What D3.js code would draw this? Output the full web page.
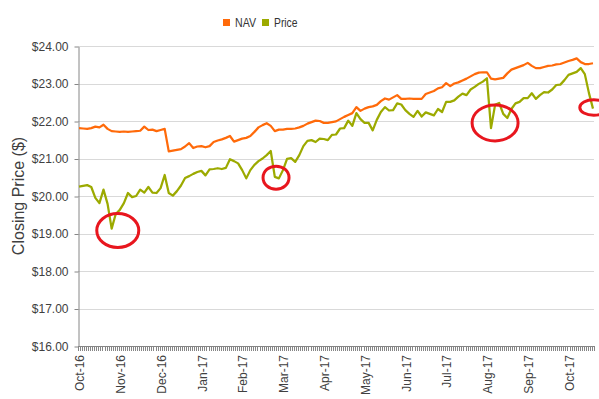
<!DOCTYPE html>
<html>
<head>
<meta charset="utf-8">
<script src="https://cdn.jsdelivr.net/npm/d3@7"></script>
<style>
  body { margin: 0; background: #fff; }
  svg { display: block; font-family: "Liberation Sans", Arial, sans-serif; }
</style>
</head>
<body>
<svg id="chart" width="599" height="399"></svg>
<script>
// trading-day category axis, labelled every 20 days
const tickLabels = ["Oct-16", "Nov-16", "Dec-16", "Jan-17", "Feb-17", "Mar-17", "Apr-17",
  "May-17", "Jun-17", "Jul-17", "Aug-17", "Sep-17", "Oct-17"];
const labelEvery = 20;
const dayCount = 253;
const sampleStep = 2; // one value every 2 trading days

const navValues = [
  21.81, 21.80, 21.79, 21.81, 21.85, 21.83, 21.90, 21.79, 21.73, 21.72,
  21.71, 21.72, 21.71, 21.72, 21.73, 21.74, 21.85, 21.76, 21.77, 21.73,
  21.76, 21.79, 21.19, 21.21, 21.23, 21.25, 21.32, 21.41, 21.28, 21.32,
  21.33, 21.30, 21.33, 21.44, 21.48, 21.51, 21.55, 21.60, 21.45, 21.49,
  21.53, 21.55, 21.60, 21.71, 21.83, 21.89, 21.94, 21.87, 21.73, 21.77,
  21.77, 21.79, 21.79, 21.80, 21.83, 21.87, 21.93, 21.97, 22.01, 22.00,
  21.95, 21.95, 21.97, 21.99, 22.05, 22.11, 22.16, 22.21, 22.37, 22.27,
  22.33, 22.37, 22.39, 22.43, 22.53, 22.60, 22.57, 22.63, 22.69, 22.59,
  22.59, 22.60, 22.59, 22.59, 22.59, 22.72, 22.76, 22.80, 22.87, 22.90,
  23.01, 22.93, 23.00, 23.03, 23.08, 23.13, 23.19, 23.25, 23.29, 23.30,
  23.30, 23.13, 23.11, 23.13, 23.15, 23.27, 23.37, 23.41, 23.45, 23.49,
  23.55, 23.47, 23.41, 23.41, 23.44, 23.47, 23.48, 23.51, 23.52, 23.56,
  23.60, 23.63, 23.67, 23.57, 23.52, 23.52, 23.54
];

const priceValues = [
  20.25, 20.27, 20.29, 20.24, 19.95, 19.81, 20.17, 19.79, 19.13, 19.52,
  19.63, 19.81, 20.08, 19.97, 20.00, 20.17, 20.09, 20.24, 20.09, 20.08,
  20.21, 20.56, 20.08, 20.01, 20.13, 20.28, 20.48, 20.53, 20.59, 20.64,
  20.67, 20.55, 20.71, 20.72, 20.74, 20.72, 20.75, 20.98, 20.93, 20.87,
  20.69, 20.47, 20.69, 20.83, 20.93, 21.00, 21.09, 21.20, 20.51, 20.47,
  20.69, 20.99, 21.01, 20.91, 21.09, 21.33, 21.47, 21.49, 21.44, 21.53,
  21.52, 21.49, 21.63, 21.64, 21.80, 21.81, 22.01, 21.87, 22.21, 22.05,
  21.95, 21.95, 21.75, 22.03, 22.24, 22.37, 22.28, 22.29, 22.47, 22.44,
  22.29, 22.19, 22.11, 22.27, 22.12, 22.23, 22.19, 22.15, 22.32, 22.24,
  22.51, 22.51, 22.55, 22.65, 22.73, 22.69, 22.84, 22.91, 22.99, 23.05,
  23.14, 21.81, 22.43, 22.48, 22.19, 22.08, 22.32, 22.47, 22.51, 22.61,
  22.61, 22.74, 22.59, 22.69, 22.77, 22.76, 22.84, 22.96, 22.97, 23.09,
  23.23, 23.27, 23.31, 23.41, 23.25, 22.75, 22.33
];

const yTicks = [16, 17, 18, 19, 20, 21, 22, 23, 24];

// red hand-drawn circles around the price dips
const highlights = [
  { day: 19, value: 19.08, rx: 21, ry: 17 },
  { day: 96.6, value: 20.49, rx: 13, ry: 11.5 },
  { day: 204, value: 21.95, rx: 23, ry: 18 },
  { day: 252.4, value: 22.36, rx: 14, ry: 7.8 }
];

const series = [
  { name: "NAV", values: navValues, color: "#ff6a0a" },
  { name: "Price", values: priceValues, color: "#9caa00" }
];

const margin = { top: 46, right: 5, bottom: 53, left: 78 };
const width = 599, height = 399;

const svg = d3.select("#chart");

const x = d3.scaleBand()
  .domain(d3.range(dayCount))
  .range([margin.left, width - margin.right])
  .paddingInner(0)
  .paddingOuter(0);
const xMid = i => x(0) + (i + 0.5) * x.bandwidth();

const y = d3.scaleLinear()
  .domain([16, 24])
  .range([height - margin.bottom, margin.top]);

// gridlines
svg.append("g")
  .selectAll("line")
  .data(yTicks.slice(1))
  .join("line")
  .attr("x1", margin.left)
  .attr("x2", width - margin.right)
  .attr("y1", d => Math.round(y(d)) + 0.5)
  .attr("y2", d => Math.round(y(d)) + 0.5)
  .attr("stroke", "#d9d9d9")
  .attr("stroke-width", 1);

// y axis
const yAxis = svg.append("g")
  .attr("transform", `translate(${margin.left + 0.5},0.5)`)
  .call(d3.axisLeft(y)
    .tickValues(yTicks)
    .tickFormat(d => "$" + d.toFixed(2))
    .tickSize(4)
    .tickSizeOuter(0)
    .tickPadding(6));
yAxis.select(".domain").attr("stroke", "#868686");
yAxis.selectAll(".tick line").attr("stroke", "#868686");
yAxis.selectAll(".tick text")
  .attr("fill", "#404040")
  .attr("font-size", "12px")
  .attr("font-family", "Liberation Sans, Arial, sans-serif");

// x axis: a tick at every day boundary
const xAxisG = svg.append("g");
xAxisG.selectAll("line.tick")
  .data(d3.range(dayCount + 1))
  .join("line")
  .attr("class", "tick")
  .attr("x1", i => Math.round(x(0) + i * x.bandwidth()) + 0.5)
  .attr("x2", i => Math.round(x(0) + i * x.bandwidth()) + 0.5)
  .attr("y1", y(16))
  .attr("y2", y(16) + 5)
  .attr("stroke", "#868686");
xAxisG.append("line")
  .attr("x1", margin.left)
  .attr("x2", width - margin.right)
  .attr("y1", y(16) + 0.5)
  .attr("y2", y(16) + 0.5)
  .attr("stroke", "#868686");
xAxisG.selectAll("text")
  .data(tickLabels)
  .join("text")
  .attr("transform", (d, i) => `translate(${xMid(i * labelEvery) + 1},${y(16) + 9}) rotate(-90)`)
  .attr("text-anchor", "end")
  .attr("dy", "0.35em")
  .attr("font-size", "12px")
  .attr("fill", "#404040")
  .text(d => d);

// y axis title
svg.append("text")
  .attr("transform", `translate(24,${(y(16) + y(24)) / 2}) rotate(-90)`)
  .attr("text-anchor", "middle")
  .attr("font-size", "16px")
  .attr("fill", "#404040")
  .text("Closing Price ($)");

// lines
const line = d3.line()
  .x((d, k) => xMid(k * sampleStep))
  .y(d => y(d));

svg.append("g")
  .selectAll("path")
  .data(series)
  .join("path")
  .attr("d", d => line(d.values))
  .attr("fill", "none")
  .attr("stroke", d => d.color)
  .attr("stroke-width", 2.25)
  .attr("stroke-linejoin", "round");

// highlight ellipses
svg.append("g")
  .selectAll("ellipse")
  .data(highlights)
  .join("ellipse")
  .attr("cx", d => xMid(d.day))
  .attr("cy", d => y(d.value))
  .attr("rx", d => d.rx)
  .attr("ry", d => d.ry)
  .attr("fill", "none")
  .attr("stroke", "#e8161e")
  .attr("stroke-width", 3);

// legend
const legendItems = [
  { name: "NAV", color: "#ff6a0a", x: 223, len: 21 },
  { name: "Price", color: "#9caa00", x: 262, len: 23.5 }
];
const legend = svg.append("g")
  .selectAll("g")
  .data(legendItems)
  .join("g")
  .attr("transform", d => `translate(${d.x},19)`);
legend.append("rect")
  .attr("width", 7)
  .attr("height", 7)
  .attr("fill", d => d.color);
legend.append("text")
  .attr("x", 12)
  .attr("y", 7.5)
  .attr("font-size", "13px")
  .attr("fill", "#333")
  .attr("textLength", d => d.len)
  .attr("lengthAdjust", "spacingAndGlyphs")
  .text(d => d.name);
</script>
</body>
</html>
